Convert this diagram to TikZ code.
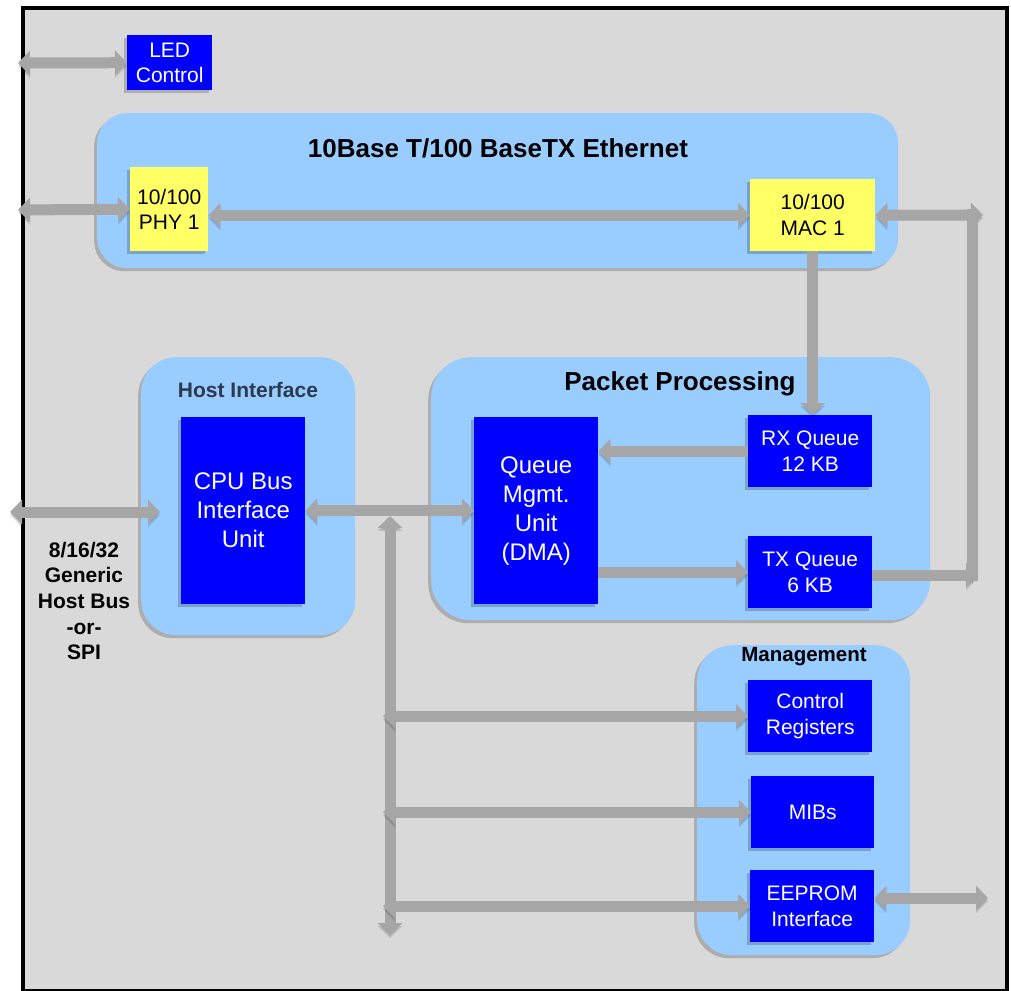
\documentclass[tikz,border=0pt]{standalone}
\usepackage{fontspec}
\setmainfont{Liberation Sans}
\usetikzlibrary{arrows.meta,shadows}
\definecolor{qblue}{HTML}{0000FF}
\definecolor{qyellow}{HTML}{FFFF66}
\definecolor{grpblue}{HTML}{99CCFF}
\definecolor{bggray}{HTML}{D9D9D9}
\definecolor{arrgray}{HTML}{A6A6A6}
\definecolor{titlegray}{HTML}{2B3A4F}
\begin{document}
\begin{tikzpicture}[x=1pt,y=-1pt,
  shad/.style={drop shadow={shadow xshift=-3pt,shadow yshift=-3pt,opacity=0.2,fill=black}},
  grp/.style={fill=grpblue,rounded corners=#1,shad,anchor=north west,inner sep=0pt,draw=none},
  blk/.style={fill=qblue,text=white,font=\fontsize{21}{25.5}\selectfont,align=center,inner sep=0pt,anchor=north west,shad},
  bigblk/.style={blk,font=\fontsize{24}{29}\selectfont},
  yblk/.style={blk,fill=qyellow,text=black},
  ttl/.style={font=\bfseries\fontsize{26}{30}\selectfont},
  gtip/.tip={Triangle[width=24pt,length=12pt]},
  arr/.style={draw=arrgray,line width=11pt,
    preaction={draw=black,opacity=0.12,transform canvas={yshift=-3pt}}},
  both/.style={arr,gtip-gtip},
  one/.style={arr,-gtip}
]
\useasboundingbox (0,0) rectangle (1011,990);
\fill[white] (0,0) rectangle (1011,990);
\node[draw=black,line width=4pt,fill=bggray,minimum width=984pt,minimum height=982.5pt,anchor=north west,inner sep=0pt] (frame) at (20.5,6) {};

% groups
\node[grp=30pt,minimum width=801pt,minimum height=155pt] (eth) at (97,113) {};
\node[grp=35pt,minimum width=214pt,minimum height=278pt] (host) at (141,357) {};
\node[grp=40pt,minimum width=499pt,minimum height=263pt] (pkt) at (431,357) {};
\node[grp=35pt,minimum width=213pt,minimum height=310pt] (mgmt) at (697,645) {};

% titles
\node[ttl] (ethT) at (498,148) {10Base T/100 BaseTX Ethernet};
\node[ttl] (pktT) at (680,384) {Packet Processing};
\node[font=\bfseries\fontsize{21}{25}\selectfont,text=titlegray] (hostT) at (248,390) {Host Interface};
\node[font=\bfseries\fontsize{20.5}{25}\selectfont] (mgmtT) at (804,657) {Management};
\node[font=\bfseries\fontsize{21}{25.7}\selectfont,align=center] (hostlbl) at (84,601) {8/16/32\\Generic\\Host Bus\\-or-\\SPI};

% blocks
\node[blk,minimum width=85pt,minimum height=55pt] (led) at (127,35) {LED\\Control};
\node[yblk,minimum width=78pt,minimum height=84pt] (phy) at (130,167) {10/100\\PHY 1};
\node[yblk,minimum width=125pt,minimum height=72pt] (mac) at (750,179) {10/100\\MAC 1};
\node[bigblk,minimum width=124pt,minimum height=187pt] (cpu) at (181,417) {CPU Bus\\Interface\\Unit};
\node[bigblk,minimum width=124pt,minimum height=187pt] (qmu) at (474,417) {Queue\\Mgmt.\\Unit\\(DMA)};
\node[blk,minimum width=124pt,minimum height=72pt] (rx) at (748,415) {RX Queue\\12 KB};
\node[blk,minimum width=124pt,minimum height=72pt] (tx) at (748,536) {TX Queue\\6 KB};
\node[blk,minimum width=124pt,minimum height=72pt] (ctrl) at (748,680) {Control\\Registers};
\node[blk,minimum width=123pt,minimum height=72pt] (mibs) at (751,776) {MIBs};
\node[blk,minimum width=124pt,minimum height=72pt] (eep) at (750,870) {EEPROM\\Interface};

% free ends
\coordinate (ledin) at (18,63);
\coordinate (phyin) at (18,210);
\coordinate (hostin) at (10,512);
\coordinate (hostend) at (160,512);
\coordinate (rtop) at (983,215);
\coordinate (rbot) at (978,575);
\coordinate (rv1) at (972,209);
\coordinate (rv2) at (972,581);
\coordinate (bustop) at (390,516);
\coordinate (busbot) at (390,935);
\coordinate (busx) at (383,0);
\coordinate (eepout) at (988,898);

% connectors
\draw[both] (ledin) -- (led.west);
\draw[both] (phyin) -- (phy.west);
\draw[both] (phy.east |- mac.west) -- (mac.west);
\draw[both] (mac.east) -- (rtop);
\draw[one] (tx.east |- rbot) -- (rbot);
\draw[arr] (rv1) -- (rv2);
\draw[one] (mac.south) -- (mac.south |- rx.north);
\draw[one] (rx.west) -- (rx.west -| qmu.east);
\draw[one] (tx.west -| qmu.east) -- (tx.west);
\draw[both] (hostin) -- (hostend);
\draw[both] (cpu.east) -- (qmu.west);
\draw[both] (bustop) -- (busbot);
\draw[both] (busx |- ctrl.west) -- (ctrl.west);
\draw[both] (busx |- mibs.west) -- (mibs.west);
\draw[both] (busx |- eep.west) -- (eep.west);
\draw[both] (eep.east |- eepout) -- (eepout);
\end{tikzpicture}
\end{document}
